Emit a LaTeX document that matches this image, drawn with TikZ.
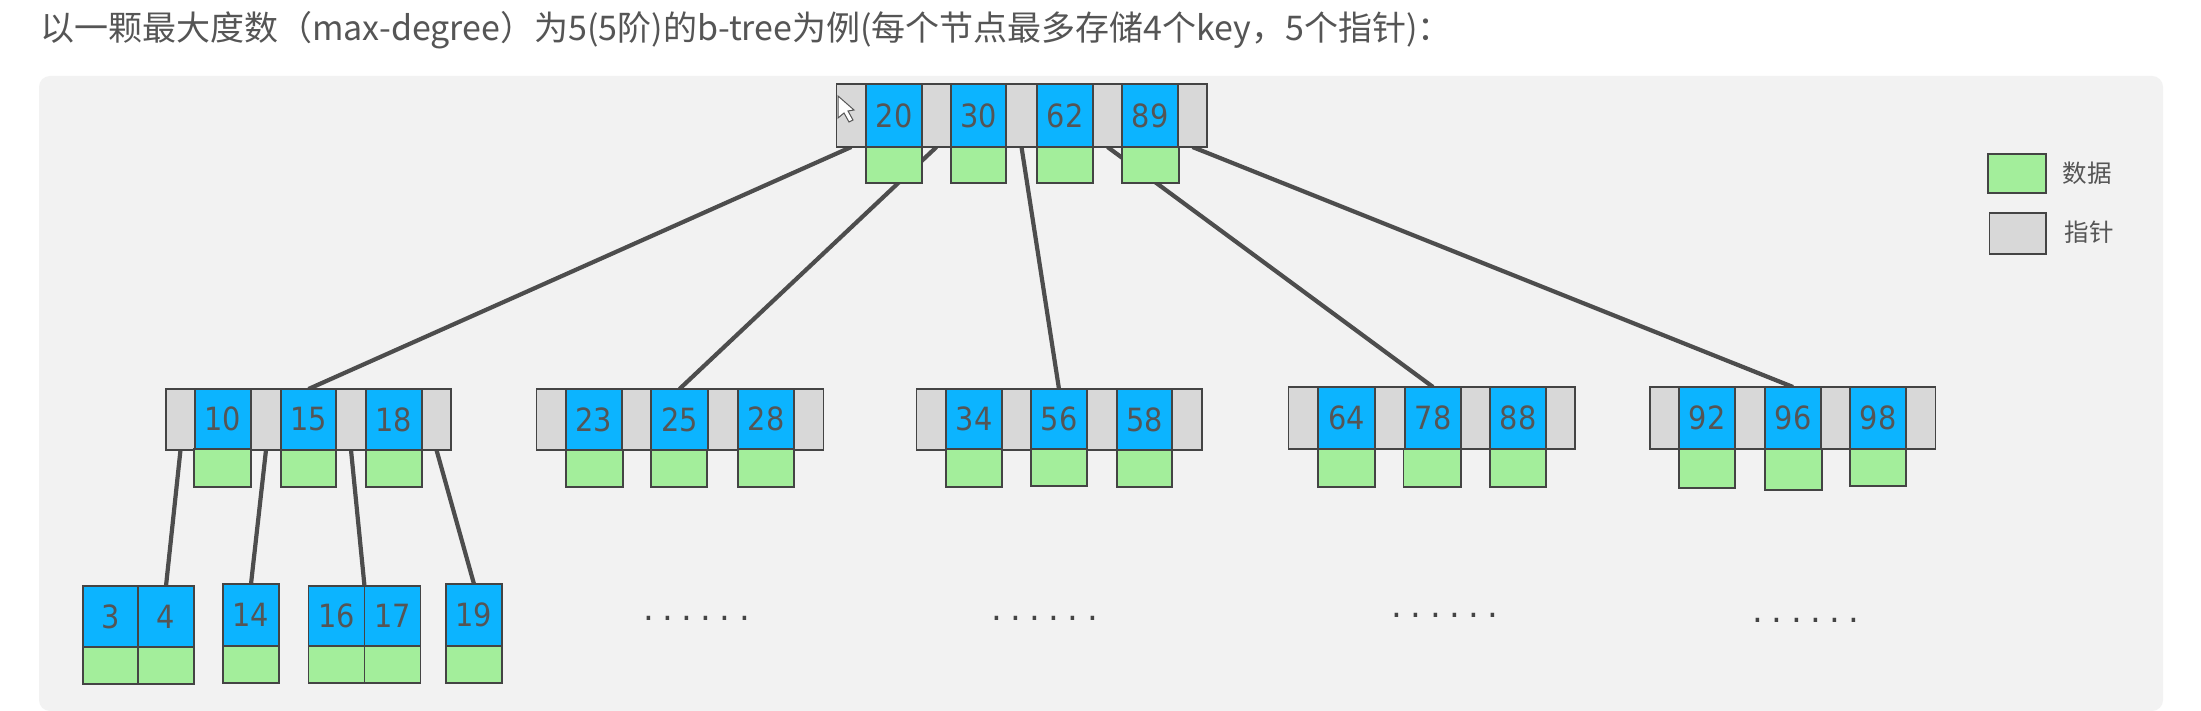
\documentclass[tikz,border=0pt]{standalone}
\usepackage{fontspec}
\usetikzlibrary{backgrounds}
\newfontfamily\cjk{Noto Sans CJK SC}
\newfontfamily\numfont[FakeStretch=0.9]{DejaVu Sans}
\newfontfamily\dotfont{DejaVu Sans}
\definecolor{panelc}{HTML}{F2F2F2}
\definecolor{keyc}{HTML}{0CB4FF}
\definecolor{datac}{HTML}{A3EE9B}
\definecolor{ptrc}{HTML}{D8D8D8}
\definecolor{inkc}{HTML}{444444}
\definecolor{textc}{HTML}{555555}
\tikzset{
  cell/.style={draw=inkc,line width=1.5pt,inner sep=0pt,outer sep=0pt,anchor=north west},
  keycell/.style={cell,fill=keyc,text=textc,font=\numfont\fontsize{32}{32}\selectfont},
  datacell/.style={cell,fill=datac},
  ptrcell/.style={cell,fill=ptrc},
  link/.style={draw=inkc!95,line width=4.2pt},
  dotrow/.style={text=inkc,anchor=base,inner sep=0pt,font=\dotfont\fontsize{34}{34}\selectfont},
}
% name, x1, y1, x2, y2, style, text
\newcommand{\cellbox}[7]{\node[#6,minimum width={(#4-#2)*1pt},minimum height={(#5-#3)*1pt}] (#1) at (#2,#3) {#7};}
\newcommand{\sixdots}[3]{\node[dotrow] (#1) at (#2,#3) {.\kern8.4pt.\kern8.4pt.\kern8.4pt.\kern8.4pt.\kern8.4pt.};}
\begin{document}
\begin{tikzpicture}[x=1pt,y=-1pt]
\useasboundingbox (0,0) rectangle (2201,711);
\node[anchor=west,inner sep=0pt,text=textc,font=\cjk\fontsize{34}{34}\selectfont] (title) at (40,30) {以一颗最大度数（max-degree）为5(5阶)的b-tree为例(每个节点最多存储4个key，5个指针)：};
% root
\cellbox{rp0}{836.5}{84}{866}{147}{ptrcell}{}
\cellbox{rp1}{922}{84}{951}{147}{ptrcell}{}
\cellbox{rp2}{1006}{84}{1037}{147}{ptrcell}{}
\cellbox{rp3}{1093}{84}{1122}{147}{ptrcell}{}
\cellbox{rp4}{1178}{84}{1207}{147}{ptrcell}{}
\cellbox{k20}{866}{84}{922}{147}{keycell}{20}
\cellbox{k30}{951}{84}{1006}{147}{keycell}{30}
\cellbox{k62}{1037}{84}{1093}{147}{keycell}{62}
\cellbox{k89}{1122}{84}{1178}{147}{keycell}{89}
\cellbox{d20}{866}{147}{922}{183}{datacell}{}
\cellbox{d30}{951}{147}{1006}{183}{datacell}{}
\cellbox{d62}{1037}{147}{1093}{183}{datacell}{}
\cellbox{d89}{1122}{147}{1179}{183}{datacell}{}
% level 2, node 1
\cellbox{ap0}{166}{389}{195}{450}{ptrcell}{}
\cellbox{ap1}{251}{389}{281}{450}{ptrcell}{}
\cellbox{ap2}{336}{389}{366}{450}{ptrcell}{}
\cellbox{ap3}{422}{389}{451}{450}{ptrcell}{}
\cellbox{k10}{195}{389}{251}{449}{keycell}{10}
\cellbox{k15}{281}{389}{336}{450}{keycell}{15}
\cellbox{k18}{366}{389}{422}{450}{keycell}{18}
\cellbox{d10}{194}{449}{251}{487}{datacell}{}
\cellbox{d15}{281}{450}{336}{487}{datacell}{}
\cellbox{d18}{366}{450}{422}{487}{datacell}{}
% node 2
\cellbox{bp0}{536.5}{389}{566}{450}{ptrcell}{}
\cellbox{bp1}{622}{389}{651}{450}{ptrcell}{}
\cellbox{bp2}{708}{389}{738}{450}{ptrcell}{}
\cellbox{bp3}{794}{389}{823.5}{450}{ptrcell}{}
\cellbox{k23}{566}{389}{622}{450}{keycell}{23}
\cellbox{k25}{651}{389}{708}{450}{keycell}{25}
\cellbox{k28}{738}{389}{794}{449}{keycell}{28}
\cellbox{d23}{566}{450}{623}{487}{datacell}{}
\cellbox{d25}{651}{450}{707}{487}{datacell}{}
\cellbox{d28}{738}{449}{794}{487}{datacell}{}
% node 3
\cellbox{cp0}{916.5}{389}{946}{450}{ptrcell}{}
\cellbox{cp1}{1002}{389}{1031}{450}{ptrcell}{}
\cellbox{cp2}{1087}{389}{1117}{450}{ptrcell}{}
\cellbox{cp3}{1172}{389}{1202}{450}{ptrcell}{}
\cellbox{k34}{946}{389}{1002}{449}{keycell}{34}
\cellbox{k56}{1031}{389}{1087}{449}{keycell}{56}
\cellbox{k58}{1117}{389}{1172}{450}{keycell}{58}
\cellbox{d34}{946}{449}{1002}{487}{datacell}{}
\cellbox{d56}{1031}{449}{1087}{486}{datacell}{}
\cellbox{d58}{1117}{450}{1172}{487}{datacell}{}
% node 4
\cellbox{ep0}{1288.5}{387}{1318}{449}{ptrcell}{}
\cellbox{ep1}{1375}{387}{1405}{449}{ptrcell}{}
\cellbox{ep2}{1461}{387}{1490}{449}{ptrcell}{}
\cellbox{ep3}{1546}{387}{1575}{449}{ptrcell}{}
\cellbox{k64}{1318}{387}{1375}{449}{keycell}{64}
\cellbox{k78}{1405}{387}{1461}{449}{keycell}{78}
\cellbox{k88}{1490}{387}{1546}{449}{keycell}{88}
\cellbox{d64}{1318}{449}{1375}{487}{datacell}{}
\cellbox{d78}{1403.5}{449}{1461}{487}{datacell}{}
\cellbox{d88}{1490}{449}{1546}{487}{datacell}{}
% node 5
\cellbox{fp0}{1650}{387}{1679}{449}{ptrcell}{}
\cellbox{fp1}{1735}{387}{1765}{449}{ptrcell}{}
\cellbox{fp2}{1821}{387}{1850}{449}{ptrcell}{}
\cellbox{fp3}{1906}{387}{1935.5}{449}{ptrcell}{}
\cellbox{k92}{1679}{387}{1735}{449}{keycell}{92}
\cellbox{k96}{1765}{387}{1821}{449}{keycell}{96}
\cellbox{k98}{1850}{387}{1906}{449}{keycell}{98}
\cellbox{d92}{1679}{449}{1735}{488}{datacell}{}
\cellbox{d96}{1765}{449}{1822}{490}{datacell}{}
\cellbox{d98}{1850}{449}{1906}{486}{datacell}{}
% leaves
\cellbox{k3}{83}{586}{138}{647}{keycell}{3}
\cellbox{k4}{138}{586}{194}{647}{keycell}{4}
\cellbox{d3}{83}{647}{138}{684}{datacell}{}
\cellbox{d4}{138}{647}{194}{684}{datacell}{}
\cellbox{k14}{223}{584}{279}{646}{keycell}{14}
\cellbox{d14}{223}{646}{279}{683}{datacell}{}
\cellbox{k16}{308.5}{586}{364.5}{646}{keycell}{16}
\cellbox{k17}{364.5}{586}{420.5}{646}{keycell}{17}
\cellbox{d16}{308.5}{646}{364.5}{683}{datacell}{}
\cellbox{d17}{364.5}{646}{420.5}{683}{datacell}{}
\cellbox{k19}{446}{584}{502}{646}{keycell}{19}
\cellbox{d19}{446}{646}{502}{683}{datacell}{}
% ellipses
\sixdots{dotsa}{696.5}{620.5}
\sixdots{dotsb}{1044.5}{620.5}
\sixdots{dotsc}{1445}{617}
\sixdots{dotsd}{1806}{622}
% legend
\cellbox{lgd}{1988}{154}{2046}{193}{datacell}{}
\cellbox{lgp}{1989.5}{213}{2046}{254}{ptrcell}{}
\node[inner sep=0pt,text=textc,font=\cjk\fontsize{24.5}{24.5}\selectfont] (lgdt) at (2087,173) {数据};
\node[inner sep=0pt,text=textc,font=\cjk\fontsize{24.5}{24.5}\selectfont] (lgpt) at (2089,232) {指针};
% cursor
\draw[fill=white,draw=textc,line width=1pt] (838,96) -- (838,118) -- (844,113) -- (849,122) -- (853,120) -- (848,111) -- (854,110) -- cycle;
\begin{pgfonlayer}{background}
\fill[white] (0,0) rectangle (2201,711);
\fill[panelc,rounded corners=11pt] (39,76) rectangle (2163,711);
\draw[link] (rp0.south) -- (k15.north);
\draw[link] (rp1.south) -- (k25.north);
\draw[link] (rp2.south) -- (k56.north);
\draw[link] (rp3.south) -- (k78.north);
\draw[link] (rp4.south) -- (k96.north);
\draw[link] (ap0.south) -- (k4.north);
\draw[link] (ap1.south) -- (k14.north);
\draw[link] (ap2.south) -- (k16.north east);
\draw[link] (ap3.south) -- (k19.north);
\end{pgfonlayer}
\end{tikzpicture}
\end{document}
